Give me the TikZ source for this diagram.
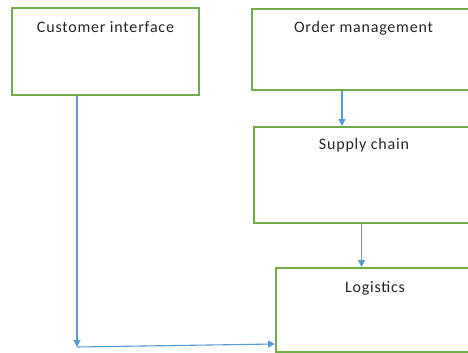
\documentclass[tikz,border=0pt]{standalone}
\usepackage{fontspec}
\setmainfont{Carlito}[LetterSpace=5]
\usetikzlibrary{arrows.meta}
\definecolor{boxgreen}{RGB}{112,173,71}
\definecolor{arrblue}{RGB}{91,155,213}
\tikzset{
  box/.style={draw=boxgreen, line width=1.6pt, rectangle, anchor=north west, inner sep=0pt},
  lbl/.style={anchor=base, font=\fontsize{16}{19}\selectfont, text=black!85, inner sep=0pt},
  arr/.style={draw=arrblue, line width=1.1pt, -{Triangle[width=7pt,length=7pt]}}
}
\begin{document}
\begin{tikzpicture}[x=1pt,y=-1pt]
\useasboundingbox[fill=white] (0,0) rectangle (468,353);
\node[box, minimum width=187pt, minimum height=87pt] (cust) at (11,7) {};
\node[box, minimum width=240pt, minimum height=81pt] (ord) at (251,8) {};
\node[box, minimum width=240pt, minimum height=96pt] (sup) at (253,126) {};
\node[box, minimum width=240pt, minimum height=84pt] (log) at (275,267) {};
\node[lbl] (custt) at (105.5,33) {Customer interface};
\node[lbl] (ordt) at (363.5,32.5) {Order management};
\node[lbl] (supt) at (364,149.5) {Supply chain};
\node[lbl] (logt) at (375,292) {Logistics};
\coordinate (c1) at (77,347);
\coordinate (c2) at (275,344);
\draw[arr] (cust.south -| c1) -- (c1);
\draw[arr] (c1) -- (c2);
\coordinate (a1) at (342,0);
\coordinate (a2) at (361.5,0);
\draw[arr] (ord.south -| a1) -- (sup.north -| a1);
\draw[arr] (sup.south -| a2) -- (log.north -| a2);
\end{tikzpicture}
\end{document}
